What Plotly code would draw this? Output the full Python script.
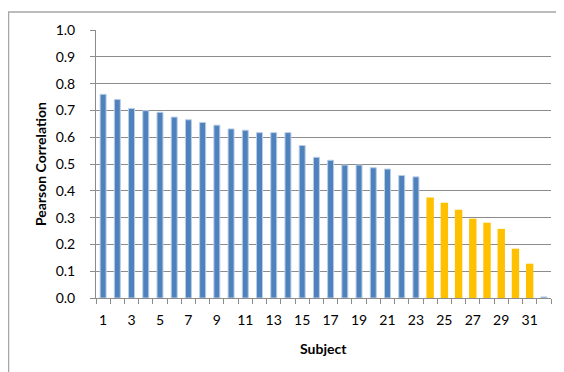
import plotly.graph_objects as go

# subjects and their pearson correlation
subjects = list(range(1, 33))
corr_blue = [0.760, 0.741, 0.707, 0.699, 0.693, 0.675, 0.665, 0.655, 0.645, 0.631,
             0.626, 0.617, 0.617, 0.617, 0.569, 0.525, 0.514, 0.496, 0.496, 0.486,
             0.481, 0.457, 0.452]
corr_yellow = [0.375, 0.355, 0.329, 0.296, 0.281, 0.258, 0.184, 0.128]
corr_last = [0.004]  # subject 32, barely visible

subj_blue = subjects[:23]
subj_yellow = subjects[23:31]
subj_last = subjects[31:]

x_ticks = list(range(1, 32, 2))
y_ticks = [i / 10 for i in range(0, 11)]

fig = go.Figure()

fig.add_trace(go.Bar(
    x=subj_blue + subj_last, y=corr_blue + corr_last,
    width=0.42,
    marker=dict(color='#4F81BD', line=dict(color='#B9CDE5', width=1)),
    showlegend=False
))
fig.add_trace(go.Bar(
    x=subj_yellow, y=corr_yellow,
    width=0.52,
    marker=dict(color='#FFC000', line=dict(width=0)),
    showlegend=False
))

grey = '#8C8C8C'
font_main = 'Lato, Carlito, Calibri, sans-serif'

# page body has an 8px margin, so margins are shifted by 8px to compensate
fig.update_layout(
    width=564, height=372,
    margin=dict(l=88, r=21, t=22, b=82),
    paper_bgcolor='white', plot_bgcolor='white',
    barmode='overlay',
    font=dict(family=font_main, size=14, color='#000000'),
    xaxis=dict(
        range=[0.5, 32.5],
        tickvals=x_ticks, ticktext=[str(v) for v in x_ticks],
        ticks='', showgrid=False,
        showline=True, linecolor=grey, linewidth=1,
        minor=dict(tick0=0.5, dtick=1, ticks='outside', ticklen=5,
                   tickcolor=grey, showgrid=False),
        ticklabelstandoff=9,
        zeroline=False,
    ),
    yaxis=dict(
        range=[0, 1.0],
        tickvals=y_ticks, ticktext=['%.1f' % v for v in y_ticks],
        ticks='outside', ticklen=5, tickcolor=grey,
        showgrid=True, gridcolor=grey, gridwidth=1,
        showline=True, linecolor=grey, linewidth=1,
        ticklabelstandoff=12,
        zeroline=False,
    ),
    annotations=[
        dict(text='<b>Subject</b>', xref='paper', yref='paper',
             x=0.499, y=-0.19, xanchor='center', yanchor='middle',
             showarrow=False, font=dict(size=14)),
        dict(text='<b>Pearson Correlation</b>', xref='paper', yref='paper',
             x=-0.123, y=0.5, xanchor='center', yanchor='middle',
             textangle=-90, showarrow=False, font=dict(size=14)),
    ],
    shapes=[
        # outer chart border
        dict(type='rect', xref='paper', yref='paper',
             x0=-0.1923, x1=1.06, y0=-0.32, y1=1.067,
             line=dict(color='#A6A6A6', width=1.5), layer='below'),
    ],
)

fig.write_html("out.html")
